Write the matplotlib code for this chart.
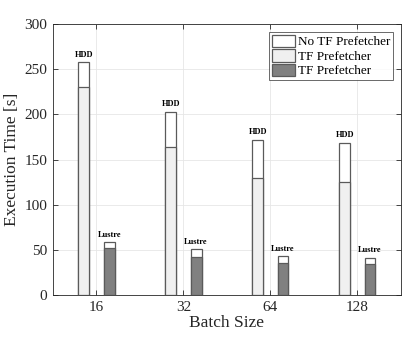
import matplotlib
matplotlib.use("Agg")
import matplotlib.pyplot as plt
import numpy as np
from matplotlib.patches import Patch

categories = ["16", "32", "64", "128"]
hdd_no_tf = [257.5, 202.5, 171.5, 168.5]
hdd_tf = [230, 163.5, 130, 125.5]
lustre_no_tf = [58.3, 50.6, 42.8, 41.3]
lustre_tf = [51.6, 41.7, 35.0, 34.3]
legend_labels = ["No TF Prefetcher", "TF Prefetcher", "TF Prefetcher"]

plt.rcParams['font.family'] = ['Liberation Serif', 'DejaVu Serif']

fig = plt.figure(figsize=(4.15, 3.41), dpi=100)
ax = fig.add_axes([0.1277, 0.1349, 0.966 - 0.1277, 0.9296 - 0.1349])

x = np.arange(1, len(categories) + 1)
w = 0.125
off = 0.145
ec = "#5a5a5a"
lw = 0.9

ax.bar(x - off, hdd_no_tf, w, color="white", edgecolor=ec, linewidth=lw, zorder=3)
ax.bar(x - off, hdd_tf, w, color="#f0f0f0", edgecolor=ec, linewidth=lw, zorder=4)
ax.bar(x + off, lustre_no_tf, w, color="white", edgecolor=ec, linewidth=lw, zorder=3)
ax.bar(x + off, lustre_tf, w, color="#808080", edgecolor=ec, linewidth=lw, zorder=4)

for xi, v in zip(x, hdd_no_tf):
    ax.text(xi - off, v + 4, "HDD", ha="center", va="bottom", fontsize=6, fontweight="bold")
for xi, v in zip(x, lustre_no_tf):
    ax.text(xi + off, v + 4, "Lustre", ha="center", va="bottom", fontsize=6, fontweight="bold")

ax.set_xlim(0.5, 4.5)
ax.set_ylim(0, 300)
ax.set_xticks(x)
ax.set_xticklabels(categories)
ax.set_yticks(np.arange(0, 301, 50))
ax.tick_params(direction="in", length=3.5, width=0.6, top=True, right=True,
               labelsize=11, colors="#262626", pad=4)
ax.grid(True, color="#e6e6e6", linewidth=0.6, zorder=0)
ax.set_axisbelow(True)
for s in ax.spines.values():
    s.set_color("#262626")
    s.set_linewidth(0.6)

ax.set_xlabel("Batch Size", fontsize=12.5, color="#262626", labelpad=1)
ax.set_ylabel("Execution Time [s]", fontsize=12.5, color="#262626", labelpad=3)

handles = [Patch(facecolor="white", edgecolor=ec, linewidth=lw),
           Patch(facecolor="#f0f0f0", edgecolor=ec, linewidth=lw),
           Patch(facecolor="#808080", edgecolor=ec, linewidth=lw)]
leg = ax.legend(handles, legend_labels, loc="upper right", fontsize=9.5,
                frameon=True, fancybox=False, edgecolor="#262626",
                handlelength=1.8, handleheight=1.1, handletextpad=0.2,
                labelspacing=0.05, borderpad=0.2, borderaxespad=0.6)
leg.get_frame().set_linewidth(0.6)

fig.savefig("out.png", dpi=100)
